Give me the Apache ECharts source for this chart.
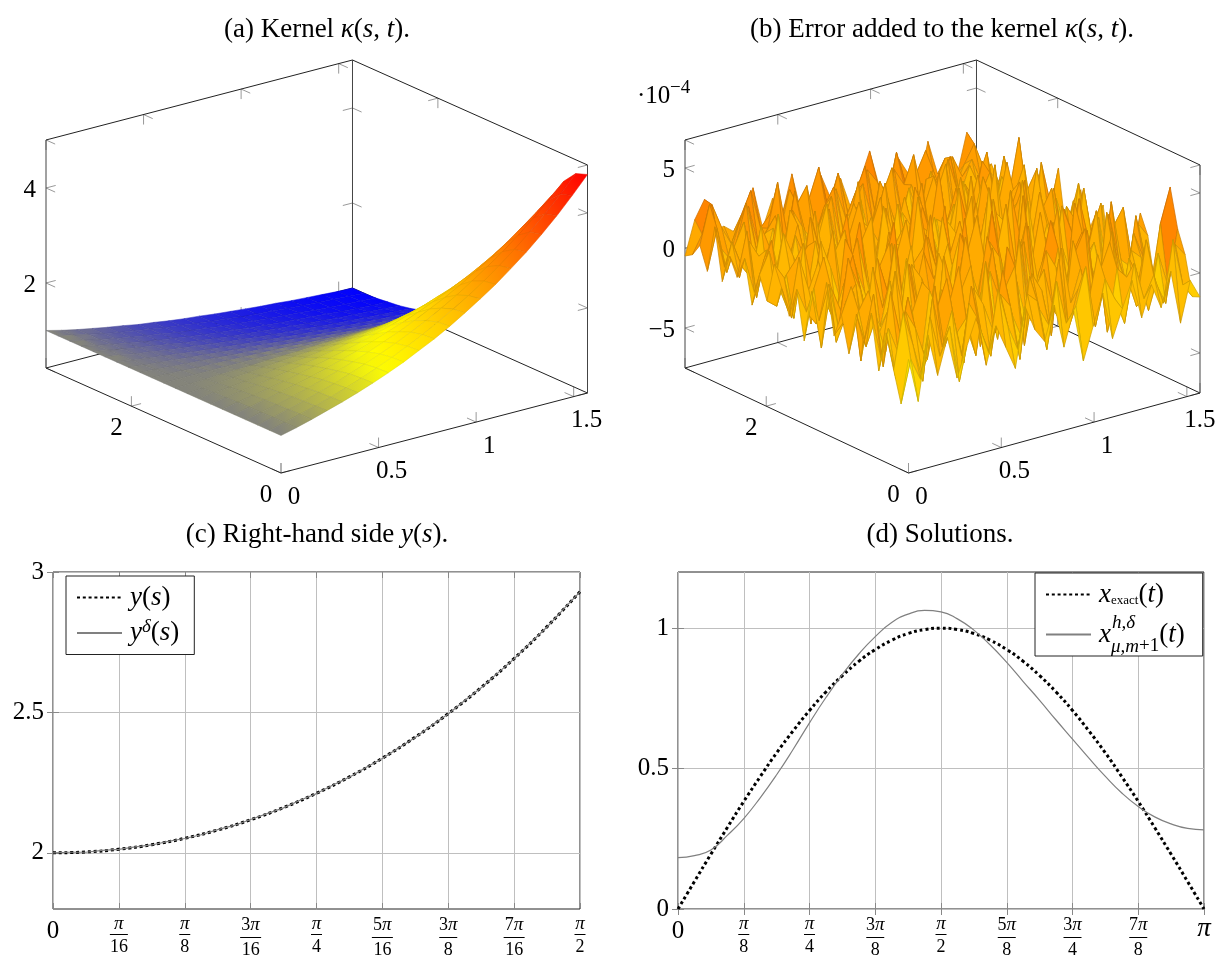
<!DOCTYPE html>
<html>
<head>
<meta charset="utf-8">
<style>html,body{margin:0;background:#fff}#main{width:1222px;height:959px}</style>
<script src="https://cdn.jsdelivr.net/npm/echarts@6/dist/echarts.min.js"></script>
</head>
<body>
<div id="main"></div>
<script>
// (a) kernel surface, one list per t sample, values along s
var kernelS = [0,.0785,.1571,.2356,.3142,.3927,.4712,.5498,.6283,.7069,.7854,.8639,.9425,1.021,1.0996,1.1781,1.2566,1.3352,1.4137,1.4923,1.5708];
var kernelT = [0,.1571,.3142,.4712,.6283,.7854,.9425,1.0996,1.2566,1.4137,1.5708,1.7279,1.885,2.0420,2.1991,2.3562,2.5133,2.6704,2.8274,2.9845,3.1416];
var kernelZ = [
[1,1.08,1.17,1.27,1.37,1.48,1.60,1.73,1.87,2.03,2.19,2.37,2.57,2.78,3.00,3.25,3.51,3.80,4.11,4.45,4.81],
[1,1.08,1.17,1.26,1.36,1.47,1.59,1.72,1.86,2.01,2.17,2.35,2.54,2.74,2.96,3.20,3.46,3.74,4.04,4.37,4.72],
[1,1.08,1.16,1.25,1.35,1.45,1.57,1.69,1.82,1.96,2.11,2.27,2.45,2.64,2.85,3.07,3.30,3.56,3.84,4.13,4.45],
[1,1.07,1.15,1.23,1.32,1.42,1.52,1.63,1.75,1.88,2.01,2.16,2.32,2.48,2.66,2.86,3.06,3.29,3.53,3.78,4.05],
[1,1.07,1.14,1.21,1.29,1.37,1.46,1.56,1.66,1.77,1.89,2.01,2.14,2.28,2.43,2.59,2.76,2.95,3.14,3.34,3.56],
[1,1.06,1.12,1.18,1.25,1.32,1.40,1.48,1.56,1.65,1.74,1.84,1.95,2.06,2.18,2.30,2.43,2.57,2.72,2.87,3.04],
[1,1.05,1.10,1.15,1.20,1.26,1.32,1.38,1.45,1.52,1.59,1.66,1.74,1.82,1.91,2.00,2.09,2.19,2.30,2.40,2.52],
[1,1.04,1.07,1.11,1.15,1.20,1.24,1.28,1.33,1.38,1.43,1.48,1.53,1.59,1.65,1.71,1.77,1.83,1.90,1.97,2.04],
[1,1.02,1.05,1.08,1.10,1.13,1.16,1.19,1.21,1.24,1.27,1.31,1.34,1.37,1.40,1.44,1.47,1.51,1.55,1.59,1.62],
[1,1.01,1.02,1.04,1.05,1.06,1.08,1.09,1.10,1.12,1.13,1.14,1.16,1.17,1.19,1.20,1.22,1.23,1.25,1.26,1.28],
[1,1,1,1,1,1,1,1,1,1,1,1,1,1,1,1,1,1,1,1,1],
[1,.99,.98,.96,.95,.94,.93,.92,.91,.90,.88,.87,.86,.85,.84,.83,.82,.81,.80,.79,.78],
[1,.98,.95,.93,.91,.89,.86,.84,.82,.80,.78,.77,.75,.73,.71,.69,.68,.66,.65,.63,.62],
[1,.96,.93,.90,.87,.84,.81,.78,.75,.73,.70,.68,.65,.63,.61,.59,.57,.55,.53,.51,.49],
[1,.95,.91,.87,.83,.79,.76,.72,.69,.66,.63,.60,.57,.55,.52,.50,.48,.46,.44,.42,.40],
[1,.95,.89,.85,.80,.76,.72,.68,.64,.61,.57,.54,.51,.49,.46,.43,.41,.39,.37,.35,.33],
[1,.94,.88,.83,.78,.73,.68,.64,.60,.56,.53,.50,.47,.44,.41,.39,.36,.34,.32,.30,.28],
[1,.93,.87,.81,.76,.70,.66,.61,.57,.53,.50,.46,.43,.40,.38,.35,.33,.30,.28,.26,.25],
[1,.93,.86,.80,.74,.69,.64,.59,.55,.51,.47,.44,.41,.38,.35,.33,.30,.28,.26,.24,.22],
[1,.93,.86,.79,.73,.68,.63,.58,.54,.50,.46,.43,.39,.36,.34,.31,.29,.27,.25,.23,.21],
[1,.92,.85,.79,.73,.68,.62,.58,.53,.49,.46,.42,.39,.36,.33,.31,.28,.26,.24,.22,.21]
];
// (b) error surface in units of 1e-4, estimated by eye, one list per t sample
var errS = [0,.0524,.1047,.1571,.2094,.2618,.3142,.3665,.4189,.4712,.5236,.5760,.6283,.6807,.7330,.7854,.8378,.8901,.9425,.9948,1.0472,1.0996,1.1519,1.2043,1.2566,1.3090,1.3614,1.4137,1.4661,1.5184,1.5708];
var errT = [0,.1047,.2094,.3142,.4189,.5236,.6283,.7330,.8378,.9425,1.0472,1.1519,1.2566,1.3614,1.4661,1.5708,1.6755,1.7802,1.8850,1.9897,2.0944,2.1991,2.3038,2.4086,2.5133,2.6180,2.7227,2.8274,2.9322,3.0369,3.1416];
var errZ = [
[-.4,-3.2,.8,-1.9,.3,-2.4,-.6,1.1,-2.1,.2,-1.3,-2.8,.9,-.7,-1.6,.5,-2.3,-.2,-3.5,-1.5,.4,-2.6,-.9,.7,-1.8,.1,-1.5,.6,-2.8,-.3,-1.5],
[-3.4,-.8,-2.2,1.5,-1.1,.6,-3,1.7,.2,-1.7,2.1,-.4,-2,1.3,.7,-2.5,1.6,-1.2,-.3,2,-1.9,.9,-.5,-2.2,1.4,-1,.3,-1.6,2.2,-.8,-1.7],
[-1.5,1.9,-.3,-2.7,2.3,-.9,1.2,-1.8,2.4,-.6,-2.3,1.4,.5,-3,2,-.2,-1.4,2.6,-1.9,.4,-.8,2.2,-2.8,1,.3,-1.7,2.3,-.6,-2,1.5,.7],
[.6,-2.4,1.6,.4,-1.6,2.7,-1.3,.2,-2.6,1.9,.7,-1.1,2.5,-.5,-2.1,1.8,.6,-2.4,2.9,-.7,1.3,-1.5,.8,2.4,-2.3,1.1,-.4,-2.5,.9,-1.3,2.1],
[-2,.5,-1.2,2.1,-.7,-2.1,.9,2.6,-1,-.2,-2.7,3,-1.6,1,2.2,-2.9,.4,1.5,-1.2,-2.3,2.8,.1,-1.7,-.4,2.7,-2,1.2,.6,-1.4,2.4,4.5],
[1.4,-1.6,2.4,-.5,1,-3.1,1.8,-.8,.6,2.8,-1.5,-.6,.2,-2.4,3.2,.8,-1.9,-.1,2.3,1.1,-2.6,1.7,3,-1.3,-.6,.9,-2.2,1.9,.2,-1.8,.5],
[-.7,2.2,-2.5,1.1,-1.9,.4,2.1,-2.2,1.3,-1.4,.9,2.3,-2.9,1.6,-.3,-1.2,3.1,-2,.7,-.9,1.9,-1.1,.2,2.5,-2.7,3.3,.4,-1.5,2.6,-.4,-2.2],
[.9,-1.3,.3,-2,2.9,-.4,-1.7,1.5,-2.8,3,.5,-2.1,1.2,-.9,2.7,-1.8,-.6,2.4,-2.5,.6,3.4,-1.6,-.8,1.4,.2,-1.9,2.8,-.2,-2.6,1.7,.8],
[-1.8,.7,1.8,-1.2,.2,-2.3,3,-.5,.8,-2,1.6,-.3,3.5,-2.2,.3,1.3,-2.7,.9,2.2,-1.4,-.5,2.9,-2.4,.6,1.8,-.7,-1.5,3.2,-.6,-1.2,2],
[.4,2,-2.8,.6,-1,1.7,-1.5,2.4,-.7,-1.6,2.6,-2.5,.4,1.9,-1.1,2.8,.2,-2.3,-.4,3,-1.7,.5,1.6,-2.9,3.4,-.9,.6,-2,1.3,2.3,-1.5],
[-1.1,-.4,1.3,-2.2,2.5,-.2,.7,-2.9,2,1,-.8,1.5,-2,3.1,-.6,-2.4,2.1,1,-2.8,.8,2.4,-1.3,.3,3,-1.9,1.2,-.4,2.2,-2.7,.5,1],
[2,-1.9,.5,1.4,-2.6,1.1,-.9,3.2,-1.2,-.5,2.2,.4,-3.2,1,2.6,-.7,-1.5,3.6,.3,-2,1.2,-.6,2.7,-2.3,.7,-1.4,2.9,.1,1.4,-2.4,.3],
[-.6,1.5,-1.4,2.8,-.3,-1.8,2.3,.1,-2.4,1.8,-1.9,2.9,.8,-1.3,-.4,3.3,-2.6,.5,1.7,-1.1,-2.5,3.7,-.9,.9,-2.2,2.4,.6,-1.7,.2,1.9,-2.1],
[1,-2.7,.9,-.7,1.9,.3,-2.5,1.4,2.7,-3,.6,-1.2,2.4,-.2,1.6,-2.2,.7,2.9,-1.8,.2,3.1,-1,1.5,-2.6,.4,-.7,1.8,-2.1,2.8,-.9,1.4],
[-2.3,.8,2.6,-1.5,.4,2.2,-.6,-1.9,.9,2.3,-.9,1.8,-2.7,3.4,-1.4,.6,2.5,-.8,-2.9,4.1,-.3,1.1,-2,2.6,-1.2,.8,-2.5,1.6,.5,-1.6,.6],
[.7,-.9,-1.8,.2,-2.2,3,1.2,-.7,-2.1,.5,3.2,-2.3,.3,1.1,-1.9,2.7,-.4,1.3,3.5,-2.4,.9,-1.7,3.2,.1,-.8,2.6,.3,-1.3,-2.2,2.5,-.7],
[-1.2,2.3,.1,1.7,-1.3,-2.7,.6,2.5,-.4,-2.6,1.4,.7,2.8,-2.1,.5,-1,3,-2.8,.4,1.8,-1.5,2.6,-.5,-2.2,3.3,-1.6,1.1,2.3,-.9,.3,1.7],
[.3,-1.7,1.1,-2.4,2.6,.8,-1.4,.3,3.1,-1.1,-2.2,2,-.6,-1.6,3.7,.2,-2,1.7,.7,-.6,2.3,-2.9,1.4,.6,-1.4,2.9,-2.3,.4,1.9,-2.1,.8],
[1.6,.6,-2.1,2.4,-.8,-.3,2.7,-1.6,-.9,1.6,2.9,-2.4,1,.6,-2.3,1.5,.9,-1.1,-2.6,3.2,.5,-1,2.1,-1.8,.2,1.3,-.9,3.1,-1.7,.9,-1.3],
[-.9,-1.4,.4,1.2,-1.7,2,-2.4,1,2.2,-.7,.4,-1.8,3,-2.6,1.3,-.5,2.3,.4,-1.4,.9,-2.1,3.4,-.7,1.7,-2.5,.5,2.2,-1.2,.7,-.4,2.4],
[.5,1.8,-.6,-2.3,.7,1.5,-.2,-1.9,.6,2.8,-2.8,1.2,-.4,2.5,.1,-2.2,3.3,-1.3,1.1,-2,1.6,-.3,-1.4,2.8,.9,-2,1.4,-.6,-2.4,2.7,-.2],
[-1.6,.2,2.1,-.9,-.4,-1.6,2.9,.5,-1.3,-1.9,1.1,3,-1.7,.2,-1.2,2.2,-.6,2.7,-2.3,.6,.1,2.2,-2.6,.5,-.9,3,-1.6,.8,2.5,-1.5,.9],
[1.1,-1.2,.7,-1.5,2,.4,-1.1,2.2,-2,.8,-.5,-2,1.4,.8,2.6,-1.5,.3,-2.1,2,-.8,3.1,-1.2,1.2,-.3,2.3,-1.1,-.2,2.6,-1.9,.4,1.6],
[-.3,2.4,-1.9,.9,-.6,-2.2,1.3,-.3,2.5,-1,-1.4,.6,2.3,-2.3,.7,1.2,-1.8,.9,-.2,2.4,-1.6,.8,-.9,2.1,-2.1,.6,1.9,-1,.3,3.6,-1.4],
[.8,-.7,1.4,.3,-1.9,2.6,-.7,1.6,-1.4,.2,2.4,-1.1,-.5,1.7,-2,.4,2.7,-.9,1.5,-1.3,.5,2.3,-.4,-1.7,1.5,-.6,2.4,-1.8,1.1,-.7,.4],
[-1,1.3,-.4,-1.3,1.8,.1,-1.6,2.3,.4,-2.1,.9,1.7,-1.2,.3,2.9,-1.9,.6,1.4,-.8,.2,-2,1.9,.7,2.5,-1.2,.9,-.3,1.2,-.9,2,-.6],
[2.2,-.5,.6,2,-.9,-1.4,1.1,-.6,1.9,.7,-1.7,.3,2.1,-.9,-.3,1.4,-1.4,2.2,.3,-1.1,1.3,-.7,.2,-1.4,2.4,.2,-1.5,.5,2.2,-1.2,.9],
[-.8,1.7,-1.2,.5,2.8,-.2,.6,1.5,-1.1,2.7,.1,-.9,1.2,2.3,-.7,.5,2,-.5,1,2.5,-.6,1.1,-1.3,1.6,.3,2.2,-.4,1.3,-.7,.6,-.2],
[.6,3,.2,-.7,1.2,2.2,-.4,.5,3.2,-.3,1.5,2.5,-.5,.8,1.8,-.2,1.2,2.7,-.3,.4,2,.9,2.6,-.2,1.3,-.8,1.8,.4,1.3,-.3,.7],
[-.2,.9,2.6,1,-.2,1.4,2.8,.3,1,-.4,2.2,.5,1.3,3.1,.2,2.4,-.3,.7,2.1,1.2,-.4,2.7,.4,1,2.3,.1,1.5,-.5,.8,1.9,.2],
[-.5,1.6,2.7,.6,.7,.2,1.1,2.6,-.1,1.6,.4,2.8,.1,.7,2.2,.6,1.7,-.2,1.2,2.9,.5,.2,1.9,.8,-.3,2.5,.3,1,-.1,2.4,.5]
];
var surfSTicks = [0,.5,1,1.5];
var surfTTicks = [0,2];
var kernelZTicks = [2,4];
var errZTicks = [-5,0,5];

// (c)
var rhsS = [0,.0982,.1963,.2945,.3927,.4909,.5890,.6872,.7854,.8836,.9817,1.0799,1.1781,1.2763,1.3744,1.4726,1.5708];
var rhsExact = [2,2.0032,2.0129,2.0290,2.0518,2.0813,2.1177,2.1612,2.2121,2.2706,2.3371,2.4121,2.4958,2.5889,2.6919,2.8054,2.9301];
var rhsNoisyS = [0,.0491,.0982,.1473,.1963,.2454,.2945,.3436,.3927,.4418,.4909,.5400,.5890,.6381,.6872,.7363,.7854,.8345,.8836,.9327,.9817,1.0308,1.0799,1.1290,1.1781,1.2272,1.2763,1.3254,1.3744,1.4235,1.4726,1.5217,1.5708];
var rhsNoisy = [2,2.002,2.002,2.0085,2.012,2.0215,2.028,2.041,2.051,2.0645,2.0825,2.0975,2.1185,2.1395,2.160,2.187,2.211,2.2415,2.2695,2.304,2.336,2.3745,2.411,2.454,2.4945,2.5425,2.5875,2.64,2.6905,2.7485,2.804,2.8675,2.929];
var rhsXTicks = ['0','π/16','π/8','3π/16','π/4','5π/16','3π/8','7π/16','π/2'];
var rhsYTicks = [2,2.5,3];

// (d)
var solT = [0,.0982,.1963,.2945,.3927,.4909,.5890,.6872,.7854,.8836,.9817,1.0799,1.1781,1.2763,1.3744,1.4726,1.5708,1.6690,1.7671,1.8653,1.9635,2.0617,2.1598,2.2580,2.3562,2.4544,2.5525,2.6507,2.7489,2.8471,2.9452,3.0434,3.1416];
var solExact = [0,.098,.195,.290,.383,.471,.556,.634,.707,.773,.831,.882,.924,.957,.981,.995,1,.995,.981,.957,.924,.882,.831,.773,.707,.634,.556,.471,.383,.290,.195,.098,0];
var solApprox = [.183,.190,.210,.262,.322,.396,.478,.568,.663,.753,.835,.908,.97,1.02,1.05,1.063,1.058,1.033,.993,.94,.878,.81,.743,.673,.605,.537,.472,.413,.365,.328,.303,.287,.282];
var solXTicks = ['0','π/8','π/4','3π/8','π/2','5π/8','3π/4','7π/8','π'];
var solYTicks = [0,.5,1];

var FONT = '"Liberation Serif"';
var PI = Math.PI;
var hotStops = [[0,0,255],[255,255,0],[255,128,0],[255,0,0]];

function hot(x) {
  x = Math.max(0, Math.min(1, x)) * 3;
  var k = Math.min(2, Math.floor(x)), f = x - k;
  return [0,1,2].map(function (c) { return hotStops[k][c] + (hotStops[k+1][c] - hotStops[k][c]) * f; });
}
function css(c, dark) {
  dark = dark || 1;
  return 'rgb(' + c.map(function (v) { return Math.round(v * dark); }).join(',') + ')';
}

// box limits of the two 3D panels, and the view they share (share of the hidden grid per axis)
var boxA = {s: [0, 1.5708], t: [0, 3.1416], z: [.21, 5.01]};
var boxB = {s: [0, 1.5708], t: [0, 3.1416], z: [-7.5, 6.75]};
var VIEW = {u0: .434, us: .566, ut: -.434, vs: .1937, vt: .2542, vz: .5521};

function projector(api, box) {
  return function (s, t, z) {
    var a = (s - box.s[0]) / (box.s[1] - box.s[0]);
    var b = (t - box.t[0]) / (box.t[1] - box.t[0]);
    var c = (z - box.z[0]) / (box.z[1] - box.z[0]);
    return api.coord([VIEW.u0 + VIEW.us * a + VIEW.ut * b, VIEW.vs * a + VIEW.vt * b + VIEW.vz * c]);
  };
}

// far cells first so that the near ones paint over them
function cellOrder(ns, nt) {
  var out = [];
  for (var j = nt - 2; j >= 0; j--) for (var i = ns - 2; i >= 0; i--) out.push([i, j]);
  return out;
}

function surfaceItem(S, T, Z, box, metaMin, metaMax, shaded) {
  return function (params, api) {
    var p = projector(api, box), i = api.value(0), j = api.value(1);
    var corners = [[i,j],[i+1,j],[i+1,j+1],[i,j+1]].map(function (c) {
      return {z: Z[c[1]][c[0]], xy: p(S[c[0]], T[c[1]], Z[c[1]][c[0]])};
    });
    var pts = corners.map(function (c) { return c.xy; });
    var mean = corners.reduce(function (a, c) { return a + c.z; }, 0) / 4;
    var flat = hot((mean - metaMin) / (metaMax - metaMin));
    var fill = css(flat);
    if (shaded) {
      var lo = corners[0], hi = corners[0];
      corners.forEach(function (c) { if (c.z < lo.z) lo = c; if (c.z > hi.z) hi = c; });
      fill = {type: 'linear', global: true, x: lo.xy[0], y: lo.xy[1], x2: hi.xy[0], y2: hi.xy[1], colorStops: [
        {offset: 0, color: css(hot((lo.z - metaMin) / (metaMax - metaMin)))},
        {offset: 1, color: css(hot((hi.z - metaMin) / (metaMax - metaMin)))}
      ]};
    }
    return {type: 'polygon', shape: {points: pts}, silent: true, style: {
      fill: fill, stroke: css(flat, shaded ? .9 : .8), lineWidth: shaded ? .5 : .7
    }};
  };
}

function boxItem(box, zTicks, labelOff) {
  return function (params, api) {
    var p = projector(api, box);
    var s0 = box.s[0], s1 = box.s[1], t0 = box.t[0], t1 = box.t[1], z0 = box.z[0], z1 = box.z[1];
    var kids = [];
    function seg(a, b, col) {
      kids.push({type: 'line', shape: {x1: a[0], y1: a[1], x2: b[0], y2: b[1]}, style: {stroke: col, lineWidth: 1}, silent: true});
    }
    function tick(s, t, z, dirs) {
      var o = p(s, t, z);
      dirs.forEach(function (d) {
        var q = p(s + d[0] * .1, t + d[1] * .1, z + d[2] * .1);
        var dx = q[0] - o[0], dy = q[1] - o[1], n = Math.sqrt(dx * dx + dy * dy);
        seg(o, [o[0] + dx / n * 10, o[1] + dy / n * 10], '#999');
      });
    }
    function text(v, xy, dx, dy, align) {
      kids.push({type: 'text', silent: true, style: {text: String(v).replace('-', '−'), x: xy[0] + dx, y: xy[1] + dy,
        font: '25px ' + FONT, fill: '#000', align: align || 'center', verticalAlign: 'middle'}});
    }
    surfSTicks.forEach(function (s) {
      tick(s, t0, z0, [[0,0,1],[0,1,0]]);
      tick(s, t1, z0, [[0,0,1],[0,-1,0]]);
      tick(s, t1, z1, [[0,0,-1],[0,-1,0]]);
      text(s, p(s, t0, z0), 13, 24);
    });
    surfTTicks.forEach(function (t) {
      tick(s0, t, z0, [[0,0,1],[1,0,0]]);
      tick(s1, t, z0, [[0,0,1],[-1,0,0]]);
      tick(s1, t, z1, [[0,0,-1],[-1,0,0]]);
      text(t, p(s0, t, z0), -15, 22);
    });
    zTicks.forEach(function (z) {
      tick(s0, t1, z, [[1,0,0],[0,-1,0]]);
      tick(s1, t1, z, [[-1,0,0],[0,-1,0]]);
      tick(s1, t0, z, [[-1,0,0],[0,1,0]]);
      text(z, p(s0, t1, z), labelOff, 2, 'right');
    });
    var col = '#222';
    seg(p(s0,t0,z0), p(s1,t0,z0), col);
    seg(p(s0,t0,z0), p(s0,t1,z0), col);
    seg(p(s0,t1,z0), p(s1,t1,z0), col);
    seg(p(s1,t0,z0), p(s1,t1,z0), col);
    seg(p(s0,t1,z1), p(s1,t1,z1), col);
    seg(p(s1,t0,z1), p(s1,t1,z1), col);
    seg(p(s0,t1,z0), p(s0,t1,z1), '#444');
    seg(p(s1,t1,z0), p(s1,t1,z1), '#444');
    seg(p(s1,t0,z0), p(s1,t0,z1), '#444');
    return {type: 'group', children: kids};
  };
}

function fracLabel(str) {
  if (str === 'π') return '{bigi|π}';
  if (str.indexOf('/') < 0) return '{big|' + str + '}';
  var parts = str.split('/'), num = parts[0], den = parts[1];
  var bar = num.length > 1 ? (den.length > 1 ? 'barL' : 'barM') : (den.length > 1 ? 'barM' : 'barS');
  var top = num.length > 1 ? '{den|' + num[0] + '}{num|π}' : '{num|π}';
  return top + '\n{' + bar + '|}\n{den|' + den + '}';
}
var fracRich = {
  big: {fontFamily: FONT, fontSize: 25, lineHeight: 33, color: '#000'},
  bigi: {fontFamily: FONT, fontStyle: 'italic', fontSize: 27, lineHeight: 28, color: '#000'},
  num: {fontFamily: FONT, fontStyle: 'italic', fontSize: 19, lineHeight: 17, color: '#000'},
  den: {fontFamily: FONT, fontSize: 18, lineHeight: 20, color: '#000'},
  barS: {width: 11, height: 1, lineHeight: 5, backgroundColor: '#000'},
  barM: {width: 18, height: 1, lineHeight: 5, backgroundColor: '#000'},
  barL: {width: 21, height: 1, lineHeight: 5, backgroundColor: '#000'}
};
var tickStyle = {inside: true, length: 6, lineStyle: {color: '#888', width: 1}};
var gridLine = {show: true, lineStyle: {color: '#bfbfbf', width: 1, type: 'solid'}};

function xMain(idx, step, maxV, labels) {
  return {type: 'value', gridIndex: idx, min: 0, max: maxV, interval: step,
    axisLine: {show: false}, axisTick: tickStyle, splitLine: gridLine,
    axisLabel: {margin: 6, hideOverlap: false, showMinLabel: true, showMaxLabel: true, rich: fracRich,
      formatter: function (v) { return fracLabel(labels[Math.round(v / step)]); }}};
}
function xTop(idx, step, maxV) {
  return {type: 'value', gridIndex: idx, position: 'top', min: 0, max: maxV, interval: step,
    axisLine: {show: false}, axisTick: tickStyle, axisLabel: {show: false}, splitLine: {show: false}};
}
function yMain(idx, minV, maxV, ticks) {
  return {type: 'value', gridIndex: idx, min: minV, max: maxV,
    axisLine: {show: false}, axisTick: Object.assign({customValues: ticks}, tickStyle), splitLine: gridLine,
    axisLabel: {customValues: ticks, margin: 9, color: '#000', fontFamily: FONT, fontSize: 25, padding: [4, 0, 0, 0]}};
}
function yRight(idx, minV, maxV, ticks) {
  return {type: 'value', gridIndex: idx, position: 'right', min: minV, max: maxV,
    axisLine: {show: false}, axisTick: Object.assign({customValues: ticks}, tickStyle), axisLabel: {show: false}, splitLine: {show: false}};
}
function hiddenAxis(idx) {
  return {type: 'value', gridIndex: idx, min: 0, max: 1, show: false};
}
function title(text, cx, top) {
  return {text: text, left: cx, top: top, textAlign: 'center', textStyle: {
    fontFamily: FONT, fontWeight: 'normal', fontSize: 27, color: '#000', rich: {
      r: {fontFamily: FONT, fontSize: 27, color: '#000'},
      i: {fontFamily: FONT, fontSize: 27, fontStyle: 'italic', color: '#000'}
    }}};
}
var legendRich = {
  sp: {width: 3},
  n: {fontFamily: FONT, fontSize: 27, color: '#000'},
  i: {fontFamily: FONT, fontSize: 27, fontStyle: 'italic', color: '#000'},
  up: {fontFamily: FONT, fontSize: 19, fontStyle: 'italic', color: '#000', padding: [0, 0, 13, 0]},
  low: {fontFamily: FONT, fontSize: 13, color: '#000', padding: [12, 0, 0, 0]},
  lowi: {fontFamily: FONT, fontSize: 19, fontStyle: 'italic', color: '#000', padding: [24, 0, 0, 0]},
  lowr: {fontFamily: FONT, fontSize: 19, color: '#000', padding: [24, 0, 0, 0]}
};
var legendText = {
  'y(s)': '{sp|}{i|y}{n|(}{i|s}{n|)}',
  'yδ(s)': '{sp|}{i|y}{up|δ}{n|(}{i|s}{n|)}',
  'x_exact(t)': '{sp|}{i|x}{low|exact}{n|(}{i|t}{n|)}',
  'x_μ,m+1(t)': '{sp|}{i|x}{lowi|μ,m}{lowr|+1}{n|(}{i|t}{n|)}'
};
function legend(names, left, top, pad, gap) {
  return {data: names, left: left, top: top, orient: 'vertical', selectedMode: false,
    borderColor: '#222', borderWidth: 1, backgroundColor: '#fff', padding: pad,
    itemWidth: 45, itemHeight: 14, itemGap: gap, z: 20, itemStyle: {opacity: 0},
    formatter: function (n) { return legendText[n]; },
    textStyle: {rich: legendRich, fontFamily: FONT, fontSize: 27, color: '#000'}};
}

var dotted = {color: '#000', width: 3, type: [3, 2.8]};
var thin = {color: '#808080', width: 1.2};
function pairs(xs, ys) { return xs.map(function (x, i) { return [x, ys[i]]; }); }

var chart = echarts.init(document.getElementById('main'));
chart.setOption({
  animation: false,
  backgroundColor: '#fff',
  title: [
    title('{r|(a) Kernel }{i|κ}{r|(}{i|s}{r|, }{i|t}{r|).}', 312, 11),
    title('{r|(b) Error added to the kernel }{i|κ}{r|(}{i|s}{r|, }{i|t}{r|).}', 937, 11),
    title('{r|(c) Right-hand side }{i|y}{r|(}{i|s}{r|).}', 312, 516),
    title('{r|(d) Solutions.}', 935, 516)
  ],
  legend: [
    legend(['y(s)', 'yδ(s)'], 66, 576, [8, 15, 8, 10], 6),
    legend(['x_exact(t)', 'x_μ,m+1(t)'], 1035, 573, [8, 18, 0, 10], 13)
  ],
  grid: [
    {left: 46, top: 60, width: 541.5, height: 413, show: false},
    {left: 685, top: 60, width: 515, height: 413, show: false},
    {left: 53, top: 572, width: 527, height: 337.5, show: true, borderColor: '#222', borderWidth: 1, containLabel: false},
    {left: 678, top: 572, width: 526, height: 338, show: true, borderColor: '#222', borderWidth: 1, containLabel: false}
  ],
  xAxis: [hiddenAxis(0), hiddenAxis(1),
    xMain(2, PI / 16, PI / 2, rhsXTicks), xMain(3, PI / 8, PI, solXTicks),
    xTop(2, PI / 16, PI / 2), xTop(3, PI / 8, PI)],
  yAxis: [hiddenAxis(0), hiddenAxis(1),
    yMain(2, 1.8, 3, rhsYTicks), yMain(3, 0, 1.2, solYTicks),
    yRight(2, 1.8, 3, rhsYTicks), yRight(3, 0, 1.2, solYTicks)],
  graphic: [
    {type: 'text', z: 100, left: 1112, top: 613, style: {text: 'h,δ', font: 'italic 19px ' + FONT, fill: '#000'}},
    {type: 'text', z: 100, left: 637, top: 84, style: {text: '·10', font: '25px ' + FONT, fill: '#000'}},
    {type: 'text', z: 100, left: 670, top: 79, style: {text: '−4', font: '19px ' + FONT, fill: '#000'}}
  ],
  series: [
    {type: 'custom', name: 'box a', xAxisIndex: 0, yAxisIndex: 0, z: 1, silent: true, clip: false, data: [[0, 0]],
      renderItem: boxItem(boxA, kernelZTicks, -10)},
    {type: 'custom', name: 'kernel', xAxisIndex: 0, yAxisIndex: 0, z: 2, silent: true, clip: false,
      data: cellOrder(kernelS.length, kernelT.length),
      renderItem: surfaceItem(kernelS, kernelT, kernelZ, boxA, .208, 4.81, true)},
    {type: 'custom', name: 'box b', xAxisIndex: 1, yAxisIndex: 1, z: 1, silent: true, clip: false, data: [[0, 0]],
      renderItem: boxItem(boxB, errZTicks, -10)},
    {type: 'custom', name: 'error', xAxisIndex: 1, yAxisIndex: 1, z: 2, silent: true, clip: false,
      data: cellOrder(errS.length, errT.length),
      renderItem: surfaceItem(errS, errT, errZ, boxB, -8.5, 7.5, false)},
    {type: 'line', name: 'y(s)', xAxisIndex: 2, yAxisIndex: 2, symbol: 'none', smooth: true, lineStyle: dotted, itemStyle: {color: '#000'},
      data: pairs(rhsS, rhsExact)},
    {type: 'line', name: 'yδ(s)', xAxisIndex: 2, yAxisIndex: 2, symbol: 'none', lineStyle: thin, itemStyle: {color: '#808080'},
      data: pairs(rhsNoisyS, rhsNoisy)},
    {type: 'line', name: 'x_exact(t)', xAxisIndex: 3, yAxisIndex: 3, symbol: 'none', smooth: true, lineStyle: dotted, itemStyle: {color: '#000'},
      data: pairs(solT, solExact)},
    {type: 'line', name: 'x_μ,m+1(t)', xAxisIndex: 3, yAxisIndex: 3, symbol: 'none', smooth: true, lineStyle: thin, itemStyle: {color: '#808080'},
      data: pairs(solT, solApprox)}
  ]
});
</script>
</body>
</html>
